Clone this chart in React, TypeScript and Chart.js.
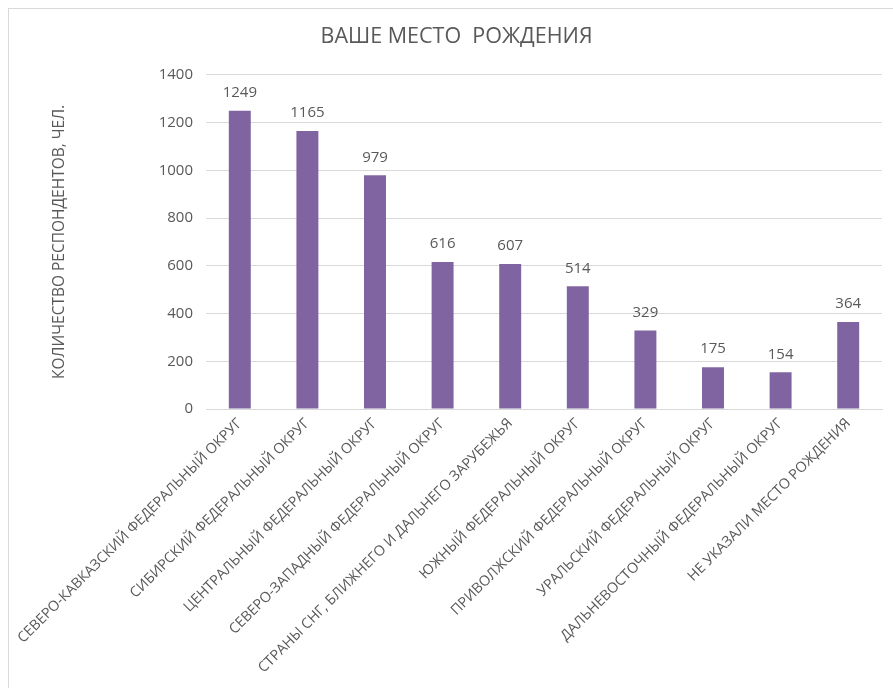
import React, { useEffect, useRef } from "react";
import { Chart, registerables } from "chart.js";

Chart.register(...registerables);

const chartTitle = "ВАШЕ МЕСТО  РОЖДЕНИЯ";
const yAxisTitle = "КОЛИЧЕСТВО РЕСПОНДЕНТОВ, ЧЕЛ.";
const categories = [
  "СЕВЕРО-КАВКАЗСКИЙ ФЕДЕРАЛЬНЫЙ ОКРУГ",
  "СИБИРСКИЙ ФЕДЕРАЛЬНЫЙ ОКРУГ",
  "ЦЕНТРАЛЬНЫЙ ФЕДЕРАЛЬНЫЙ ОКРУГ",
  "СЕВЕРО-ЗАПАДНЫЙ ФЕДЕРАЛЬНЫЙ ОКРУГ",
  "СТРАНЫ СНГ, БЛИЖНЕГО И ДАЛЬНЕГО ЗАРУБЕЖЬЯ",
  "ЮЖНЫЙ ФЕДЕРАЛЬНЫЙ ОКРУГ",
  "ПРИВОЛЖСКИЙ ФЕДЕРАЛЬНЫЙ ОКРУГ",
  "УРАЛЬСКИЙ ФЕДЕРАЛЬНЫЙ ОКРУГ",
  "ДАЛЬНЕВОСТОЧНЫЙ ФЕДЕРАЛЬНЫЙ ОКРУГ",
  "НЕ УКАЗАЛИ МЕСТО РОЖДЕНИЯ",
];
const respondents = [1249, 1165, 979, 616, 607, 514, 329, 175, 154, 364];
const yMin = 0;
const yMax = 1400;
const yStep = 200;

const FONT = "'Open Sans', 'Liberation Sans', sans-serif";
const TEXT = "#595959";
const GRID = "#d9d9d9";
const BAR = "#8064a2";

const valueLabels = {
  id: "valueLabels",
  afterDatasetsDraw(chart: any) {
    const ctx = chart.ctx;
    const meta = chart.getDatasetMeta(0);
    ctx.save();
    ctx.fillStyle = TEXT;
    ctx.font = `15px ${FONT}`;
    ctx.textAlign = "center";
    ctx.textBaseline = "middle";
    meta.data.forEach((bar: any, i: number) => {
      const v = chart.data.datasets[0].data[i];
      ctx.fillText(String(v), bar.x, bar.y - 18);
    });
    ctx.restore();
  },
};

export default function App() {
  const ref = useRef<HTMLCanvasElement | null>(null);
  useEffect(() => {
    if (!ref.current) return;
    const chart = new Chart(ref.current, {
      type: "bar",
      data: {
        labels: categories,
        datasets: [
          {
            data: respondents,
            backgroundColor: BAR,
            borderWidth: 0,
            barPercentage: 0.325,
            categoryPercentage: 1,
          },
        ],
      },
      options: {
        animation: false,
        responsive: false,
        maintainAspectRatio: false,
        layout: { padding: { left: 0, right: 0, top: 0, bottom: 0 } },
        plugins: {
          legend: { display: false },
          tooltip: { enabled: false },
          title: {
            display: true,
            text: chartTitle,
            color: TEXT,
            font: { family: FONT, size: 21.5, weight: "normal" },
            padding: { top: 15, bottom: 25 },
          },
        },
        scales: {
          x: {
            grid: { display: false, drawTicks: false },
            border: { display: true, color: GRID, width: 1 },
            ticks: {
              autoSkip: false,
              maxRotation: 45,
              minRotation: 45,
              padding: 6,
              color: TEXT,
              font: { family: FONT, size: 14.3 },
            },
            afterFit: (scale: any) => {
              scale.height = 298;
              scale.paddingLeft = 0;
              scale.paddingRight = 22;
            },
          },
          y: {
            min: yMin,
            max: yMax,
            ticks: {
              stepSize: yStep,
              padding: 13,
              color: TEXT,
              font: { family: FONT, size: 15 },
              callback: (v: any) => String(v),
            },
            grid: { color: GRID, drawTicks: false },
            border: { display: false },
            title: {
              display: true,
              text: yAxisTitle,
              color: TEXT,
              font: { family: FONT, size: 15.5, weight: "normal" },
              padding: { top: 41, bottom: 0 },
            },
            afterFit: (scale: any) => {
              scale.width = 197;
            },
          },
        },
      },
      plugins: [valueLabels],
    });
    return () => chart.destroy();
  }, []);

  return (
    <div
      style={{
        position: "fixed",
        left: 0,
        top: 0,
        width: 893,
        height: 688,
        overflow: "hidden",
        background: "#fff",
      }}
    >
      <div
        style={{
          position: "absolute",
          left: 8,
          top: 8,
          width: 897,
          height: 700,
          border: `1px solid ${GRID}`,
          boxSizing: "border-box",
        }}
      >
        <canvas ref={ref} width={895} height={698} style={{ display: "block" }} />
      </div>
    </div>
  );
}
